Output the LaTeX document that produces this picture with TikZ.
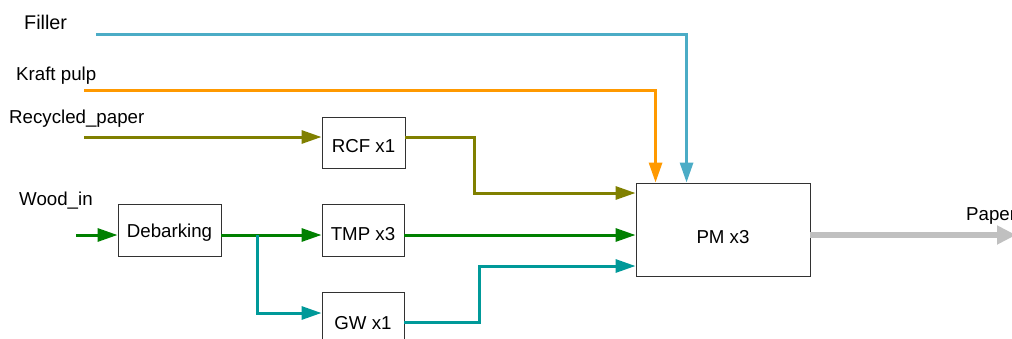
\documentclass[tikz,border=0pt]{standalone}
\usepackage{fontspec}
\setmainfont{Liberation Sans}
\usetikzlibrary{arrows.meta,calc}
\definecolor{cFiller}{RGB}{75,172,198}
\definecolor{cKraft}{RGB}{255,153,0}
\definecolor{cOlive}{RGB}{128,128,0}
\definecolor{cGreen}{RGB}{0,128,0}
\definecolor{cTeal}{RGB}{0,153,153}
\definecolor{cGray}{RGB}{192,192,192}
\definecolor{cBorder}{RGB}{50,50,50}
\tikzset{
  procbox/.style={draw=cBorder, line width=0.9pt, fill=white, inner sep=0pt,
    font=\fontsize{18.7}{22}\selectfont, text depth=0pt},
  lbl/.style={anchor=base west, inner sep=0pt, font=\fontsize{18.7}{22}\selectfont},
  flow/.style={line width=3pt, -{Triangle[length=20pt,width=13pt]}},
}
\begin{document}
\begin{tikzpicture}[x=1pt,y=-1pt]
\useasboundingbox (0,0) rectangle (1012,338);
% boxes
\node[procbox, minimum width=83pt, minimum height=51pt, text height=19pt] (rcf) at (363.5,142.5) {RCF x1};
\node[procbox, minimum width=103pt, minimum height=52pt, text height=14pt] (deb) at (169.5,230) {Debarking};
\node[procbox, minimum width=82pt, minimum height=52pt, text height=20pt] (tmp) at (363,230) {TMP x3};
\node[procbox, minimum width=82pt, minimum height=52pt, text height=22pt] (gw) at (363,318) {GW x1};
\node[procbox, minimum width=174pt, minimum height=93pt, text height=27pt] (pm) at (723,229.5) {PM x3};
% labels
\node[lbl, font=\fontsize{19.8}{23}\selectfont] (lfill) at (24,29) {Filler};
\node[lbl] (lkraft) at (16,80) {Kraft pulp};
\node[lbl] (lrec) at (9,123) {Recycled\_paper};
\node[lbl] (lwood) at (19,205) {Wood\_in};
\node[lbl] (lpaper) at (966,220) {Paper};
% coordinates
\coordinate (fillS) at (96,34);
\coordinate (kraftS) at (84,90);
\coordinate (recS) at (84,137);
\coordinate (woodS) at (76,235);
\coordinate (br) at (257,235);
\coordinate (j1) at (474,193);
\coordinate (j2) at (479,266);
\coordinate (paperE) at (1016,235);
% flows
\draw[flow, draw=cFiller] (fillS) -| ([xshift=51pt]pm.north west);
\draw[flow, draw=cKraft] (kraftS) -| ([xshift=20pt]pm.north west);
\draw[flow, draw=cOlive] (recS) -- (recS -| rcf.west);
\draw[flow, draw=cOlive] (recS -| rcf.east) -| (j1) -- (j1 -| pm.west);
\draw[flow, draw=cGreen] (woodS) -- (woodS -| deb.west);
\draw[flow, draw=cGreen] (woodS -| deb.east) -- (woodS -| tmp.west);
\draw[flow, draw=cTeal] (br) |- ([yshift=5pt]gw.west);
\draw[flow, draw=cGreen] (woodS -| tmp.east) -- (woodS -| pm.west);
\draw[flow, draw=cTeal] ([yshift=-4pt]gw.east) -| (j2) -- (j2 -| pm.west);
\draw[line width=5.5pt, draw=cGray, -{Triangle[length=19pt,width=18pt]}] (woodS -| pm.east) -- (paperE);
\end{tikzpicture}
\end{document}
